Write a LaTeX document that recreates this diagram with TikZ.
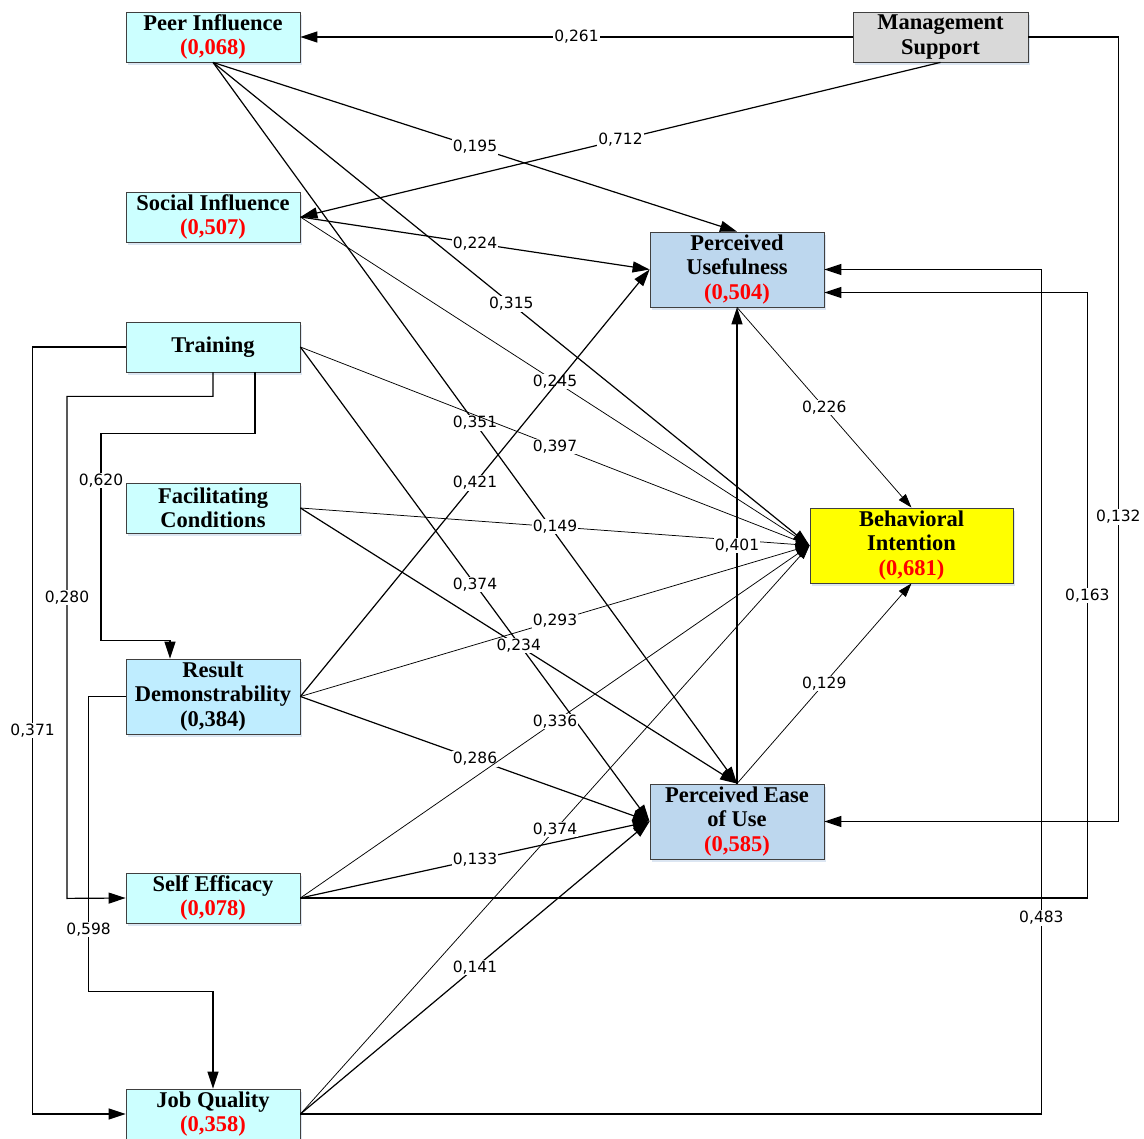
\documentclass[tikz,border=0pt]{standalone}
\usepackage{fontspec}
\setmainfont{Liberation Serif}
\newfontfamily\lblfont{DejaVu Sans}
\usetikzlibrary{calc,arrows.meta,shadows}

\definecolor{boxcyan}{HTML}{CCFFFF}
\definecolor{boxblue}{HTML}{BFEDFF}
\definecolor{boxsteel}{HTML}{BDD7EE}
\definecolor{boxgray}{HTML}{D9D9D9}
\definecolor{boxyellow}{HTML}{FFFF00}
\definecolor{shadowblue}{HTML}{DCE6F2}
\def\val#1{\textcolor{red}{(#1)}}

\tikzset{
	construct/.style={draw=black!75, line width=0.8pt, minimum width=174pt, minimum height=50pt, inner sep=0pt, align=center, font=\fontsize{22.5}{24.5}\selectfont\bfseries, general shadow={fill=shadowblue, shadow xshift=2pt, shadow yshift=-3pt}},
	link/.style={line width=1.2pt, -{Triangle[length=17pt,width=11pt]}},
	thinlink/.style={line width=0.75pt, -{Triangle[length=14pt,width=9pt]}},
	elbow/.style={line width=1.2pt, -{Triangle[length=17pt,width=11pt]}},
	lbl/.style={fill=white, inner sep=1pt, font=\lblfont\fontsize{15.5}{15.5}\selectfont}
}

\begin{document}
\begin{tikzpicture}[x=1pt, y=-1pt]
			%%%%% START %%%%%
			\useasboundingbox (0,0) rectangle (1144,1139);
			
			\node[construct, fill=boxcyan] (pi) at (213,37) {Peer Influence\\\val{0,068}};
			\node[construct, fill=boxgray, minimum width=175pt] (ms) at (940.5,37) {Management\\Support};
			\node[construct, fill=boxcyan] (si) at (213,217) {Social Influence\\\val{0,507}};
			\node[construct, fill=boxcyan] (tr) at (213,347) {Training};
			\node[construct, fill=boxcyan] (fc) at (213,508) {Facilitating\\Conditions};
			\node[construct, fill=boxblue, minimum height=75pt] (rd) at (213,696.5) {Result\\Demonstrability\\(0,384)};
			\node[construct, fill=boxcyan] (se) at (213,898) {Self Efficacy\\\val{0,078}};
			\node[construct, fill=boxcyan] (jq) at (213,1114) {Job Quality\\\val{0,358}};
			
			\node[construct, fill=boxsteel, minimum height=75pt] (pu) at (737,269.5) {Perceived\\Usefulness\\\val{0,504}};
			\node[construct, fill=boxyellow, minimum width=203pt, minimum height=75pt] (bi) at (911.5,545.5) {Behavioral\\Intention\\\val{0,681}};
			\node[construct, fill=boxsteel, minimum height=75pt] (peou) at (737,821.5) {Perceived Ease\\of Use\\\val{0,585}};
			
			% management support
			\draw[link] (ms.west) -- node[lbl]{0,261} (pi.east);
			\draw[link] (ms.south) -- node[lbl]{0,712} (si.east);
			\draw[elbow] (ms.east) -- ++(90,0) |- node[lbl, pos=0.306]{0,132} (peou.east);
			
			% peer and social influence
			\draw[link] (pi.south) -- node[lbl]{0,195} (pu.north);
			\draw[link] (pi.south) -- node[lbl]{0,315} (bi.west);
			\draw[link] (pi.south) -- node[lbl]{0,351} (peou.north);
			\draw[link] (si.east) -- node[lbl]{0,224} (pu.west);
			\draw[thinlink] (si.east) -- node[lbl]{0,245} (bi.west);
			
			% training
			\draw[thinlink] (tr.east) -- node[lbl]{0,397} (bi.west);
			\draw[link] (tr.east) -- node[lbl]{0,374} (peou.west);
			\draw[elbow] (tr.south) -- ++(0,24) -- ++(-146,0) -- node[lbl, pos=0.4]{0,280} ++(0,502) -- (se.west);
			\draw[elbow] ($(tr.south)+(42,0)$) -- ++(0,61) -- ++(-154,0) -- node[lbl, pos=0.227]{0,620} ++(0,207) -- ++(69,0) -- ($(rd.north)+(-43,0)$);
			\draw[elbow] (tr.west) -- ++(-93,0) |- node[lbl, pos=0.25]{0,371} (jq.west);
			
			% facilitating conditions
			\draw[thinlink] (fc.east) -- node[lbl]{0,149} (bi.west);
			\draw[link] (fc.east) -- node[lbl]{0,234} (peou.north);
			
			% result demonstrability
			\draw[link] (rd.east) -- node[lbl]{0,421} (pu.west);
			\draw[thinlink] (rd.east) -- node[lbl]{0,293} (bi.west);
			\draw[link] (rd.east) -- node[lbl]{0,286} (peou.west);
			\draw[elbow] (rd.west) -- ++(-37,0) -- node[lbl, pos=0.79]{0,598} ++(0,295) -| (jq.north);
			
			% self efficacy
			\draw[thinlink] (se.east) -- node[lbl]{0,336} (bi.west);
			\draw[link] (se.east) -- node[lbl]{0,133} (peou.west);
			\draw[elbow] (se.east) -- ++(787,0) |- node[lbl, pos=0.25]{0,163} ($(pu.east)+(0,23)$);
			
			% job quality
			\draw[thinlink] (jq.east) -- node[lbl]{0,374} (bi.west);
			\draw[link] (jq.east) -- node[lbl]{0,141} (peou.west);
			\draw[elbow] (jq.east) -- ++(741,0) |- node[lbl, pos=0.116]{0,483} (pu.east);
			
			% usefulness, ease of use, intention
			\draw[link] (peou.north) -- node[lbl]{0,401} (pu.south);
			\draw[thinlink] (pu.south) -- node[lbl]{0,226} (bi.north);
			\draw[thinlink] (peou.north) -- node[lbl]{0,129} (bi.south);
			
			%%%%% END %%%%%
\end{tikzpicture}
\end{document}
